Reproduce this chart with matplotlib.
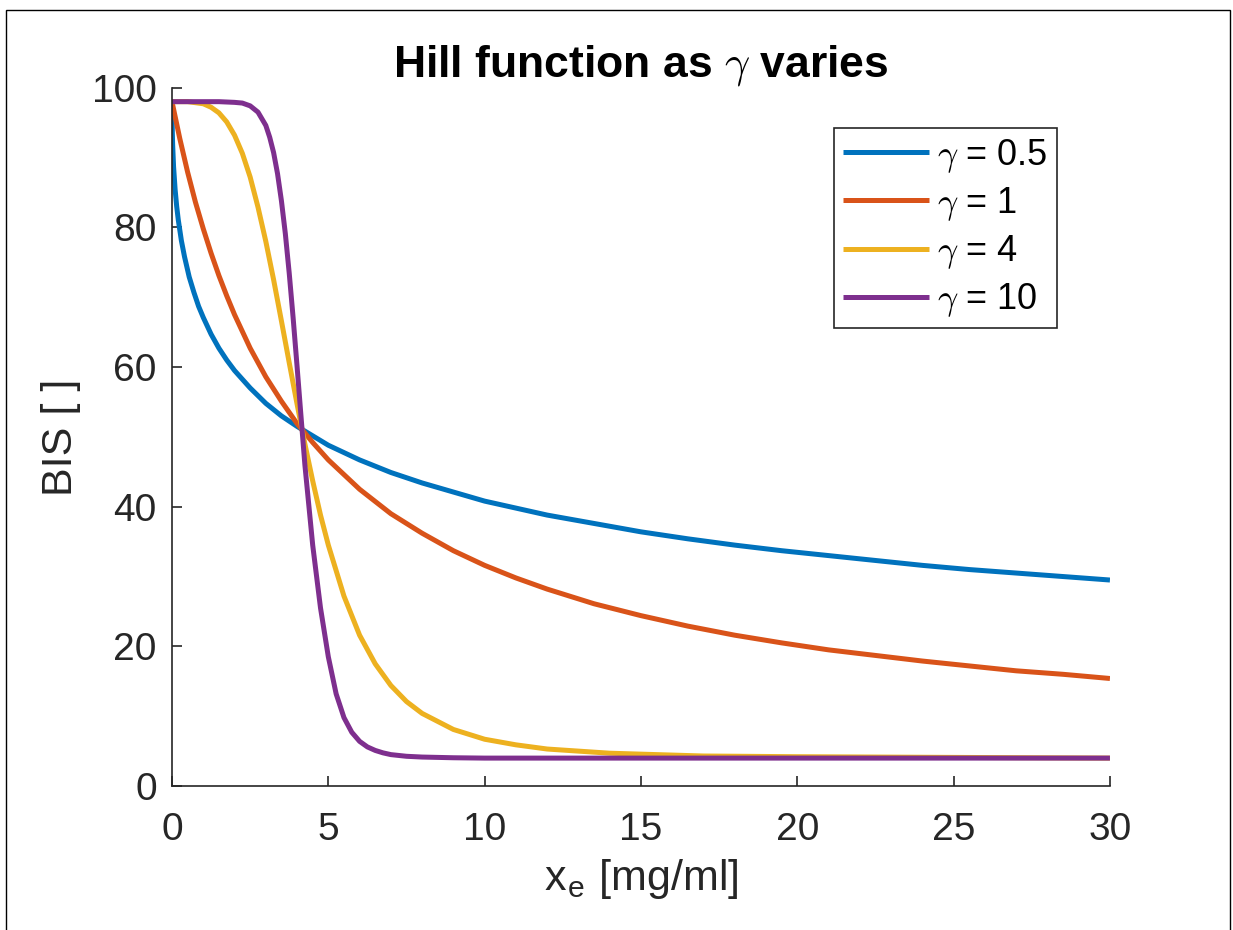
import numpy as np
import matplotlib
matplotlib.use("Agg")
import matplotlib.pyplot as plt
from matplotlib.patches import Rectangle

plt.rcParams['font.family'] = ['Liberation Sans', 'DejaVu Sans']
plt.rcParams['mathtext.fontset'] = 'cm'

# values (x in mg/ml, BIS)
x_g05 = [0, 0.01, 0.02, 0.05, 0.1, 0.15, 0.2, 0.3, 0.4, 0.55, 0.7, 0.85, 1, 1.25, 1.5, 1.75,
         2, 2.5, 3, 3.5, 4, 5, 6, 7, 8, 9, 10, 11, 12, 13.5, 15, 16.5, 18, 19.5, 21, 22.5,
         24, 25.5, 27, 28.5, 30]
bis_g05 = [98, 93.6, 91.9, 88.7, 85.4, 83.0, 81.1, 78.1, 75.8, 72.9, 70.7, 68.7, 67.1, 64.7,
           62.7, 61.0, 59.5, 57.0, 54.8, 53.0, 51.5, 48.8, 46.7, 44.9, 43.4, 42.1, 40.8, 39.8,
           38.8, 37.6, 36.4, 35.4, 34.5, 33.7, 33.0, 32.3, 31.6, 31.0, 30.5, 30.0, 29.5]

x_g1 = [0, 0.25, 0.5, 0.75, 1, 1.25, 1.5, 1.75, 2, 2.5, 3, 3.5, 4, 4.5, 5, 6, 7, 8, 9, 10,
        11, 12, 13.5, 15, 16.5, 18, 19.5, 21, 22.5, 24, 25.5, 27, 28.5, 30]
bis_g1 = [98, 92.7, 87.9, 83.6, 79.8, 76.3, 73.1, 70.2, 67.5, 62.7, 58.6, 55.1, 51.9, 49.2,
          46.7, 42.5, 39.0, 36.2, 33.7, 31.6, 29.8, 28.2, 26.1, 24.4, 22.9, 21.6, 20.5, 19.5,
          18.7, 17.9, 17.2, 16.5, 16.0, 15.4]

x_g4 = [0, 0.5, 1, 1.25, 1.5, 1.75, 2, 2.25, 2.5, 2.75, 3, 3.25, 3.5, 3.75, 4, 4.25, 4.5,
        4.75, 5, 5.5, 6, 6.5, 7, 7.5, 8, 9, 10, 11, 12, 13, 14, 15.5, 17, 20, 25, 30]
bis_g4 = [98, 98, 97.7, 97.2, 96.4, 95.1, 93.2, 90.6, 87.2, 82.9, 78.0, 72.5, 66.6, 60.6,
          54.7, 49.0, 43.7, 38.8, 34.5, 27.2, 21.6, 17.5, 14.4, 12.1, 10.4, 8.1, 6.7, 5.9,
          5.3, 5.0, 4.7, 4.5, 4.3, 4.2, 4.1, 4.0]

x_g10 = [0, 0.5, 1, 1.5, 2, 2.25, 2.5, 2.75, 3, 3.125, 3.25, 3.375, 3.5, 3.625, 3.75, 3.875,
         4, 4.125, 4.25, 4.5, 4.75, 5, 5.25, 5.5, 5.75, 6, 6.25, 6.5, 6.75, 7, 7.5, 8, 9, 10,
         15, 20, 30]
bis_g10 = [98, 98, 98, 98, 97.9, 97.8, 97.4, 96.5, 94.6, 92.9, 90.7, 87.7, 83.8, 79.1, 73.4,
           67.0, 60.1, 53.0, 46.0, 34.5, 25.5, 18.5, 13.2, 9.8, 7.7, 6.4, 5.6, 5.1, 4.75,
           4.5, 4.26, 4.15, 4.05, 4.0, 4.0, 4.0, 4.0]

labels = [r'$\gamma$ = 0.5', r'$\gamma$ = 1', r'$\gamma$ = 4', r'$\gamma$ = 10']
colors = ['#0072BD', '#D95319', '#EDB120', '#7E2F8E']

fig = plt.figure(figsize=(12.33, 9.3), dpi=100)
ax = fig.add_axes([0.1395, 0.1548, 0.7607, 0.7509])

series = [(x_g05, bis_g05), (x_g1, bis_g1), (x_g4, bis_g4), (x_g10, bis_g10)]
for (xs, ys), lab, c in zip(series, labels, colors):
    ax.plot(xs, ys, color=c, lw=3.6, label=lab, solid_joinstyle='round',
            solid_capstyle='butt')

ax.set_xlim(0, 30)
ax.set_ylim(0, 100)
ax.set_xticks(np.arange(0, 31, 5))
ax.set_yticks(np.arange(0, 101, 20))

dark = '#262626'
for s in ['top', 'right']:
    ax.spines[s].set_visible(False)
for s in ['left', 'bottom']:
    ax.spines[s].set_color(dark)
    ax.spines[s].set_linewidth(1.2)
ax.tick_params(direction='in', length=7, width=1.2, colors=dark, labelsize=28)
ax.tick_params(axis='x', pad=19)
ax.tick_params(axis='y', pad=11)

ax.set_title(r'Hill function as $\gamma$ varies', fontsize=32, fontweight='bold', pad=6)
ax.set_xlabel(r'x$_\mathregular{e}$ [mg/ml]', fontsize=31, color=dark, labelpad=6)
ax.set_ylabel('BIS [ ]', fontsize=31, color=dark, labelpad=8)

leg = ax.legend(loc='upper right', bbox_to_anchor=(0.9435, 0.9423), fontsize=26,
                handlelength=2.4, handletextpad=0.22, labelspacing=0.28,
                borderpad=0.25, fancybox=False, framealpha=1, borderaxespad=0)
leg.get_frame().set_edgecolor(dark)
leg.get_frame().set_linewidth(1.2)

# thin frame around the exported figure
fig.patches.append(Rectangle((6 / 1233, -0.01), 1224 / 1233, 1 - 10 / 930 + 0.01,
                             transform=fig.transFigure, fill=False,
                             edgecolor='black', linewidth=1))

fig.savefig('out.png', dpi=100)
